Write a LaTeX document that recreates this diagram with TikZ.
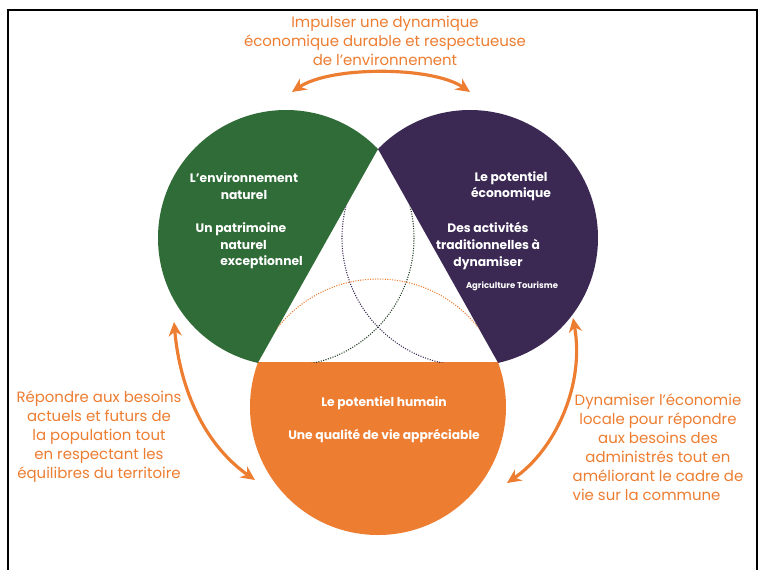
\documentclass[tikz,border=0pt]{standalone}
\usepackage{fontspec}
\setmainfont{Poppins}
\usepackage{tikz}
\usetikzlibrary{arrows.meta,calc,positioning}

\definecolor{colEnv}{RGB}{48,108,55}
\definecolor{colEco}{RGB}{59,41,84}
\definecolor{colHum}{RGB}{237,125,49}

\begin{document}
\begin{tikzpicture}[x=0.02cm,y=-0.02cm]
			\tikzstyle{Goal}	= [text=colHum, align=center, inner sep=0pt, font=\fontsize{8.5}{10.8}\selectfont]
			\tikzstyle{Inner}	= [text=white, align=center, inner sep=0pt, font=\bfseries\fontsize{7}{9.4}\selectfont]
			\tikzstyle{Small}	= [Inner, font=\bfseries\fontsize{4.8}{6}\selectfont]
			\tikzstyle{Link}	= [line width=1.8pt, colHum, {Stealth[length=8pt,width=7.5pt]}-{Stealth[length=8pt,width=7.5pt]}]
			\tikzstyle{Trace}	= [line width=0.6pt, dash pattern=on 0.6pt off 0.8pt]

			\useasboundingbox (0,0) rectangle (762,569);
			\fill [white] (0,0) rectangle (762,569);
			\draw [line width=1.1pt] (8,590) -- (8,10) -- (757,10) -- (757,590);

			% centres of the three circles and the corners of the triangle
			\coordinate (cEnv) at (286,238);
			\coordinate (cEco) at (470,238);
			\coordinate (cHum) at (378,407);
			\coordinate (T) at (378,149);
			\coordinate (L) at (257.9,362.8);
			\coordinate (R) at (498.1,362.8);

			\begin{scope}
				\clip ($(T)!-2!(L)$) -- ($(T)!3!(L)$) -- (-300,900) -- (-300,-300) -- cycle;
				\fill [colEnv] (cEnv) circle [radius=128];
			\end{scope}
			\begin{scope}
				\clip ($(T)!-2!(R)$) -- ($(T)!3!(R)$) -- (1100,900) -- (1100,-300) -- cycle;
				\fill [colEco] (cEco) circle [radius=128];
			\end{scope}
			\begin{scope}
				\clip ($(L)+(-300,0)$) rectangle ($(R)+(300,300)$);
				\fill [colHum] (cHum) circle [radius=128];
			\end{scope}

			% dotted outlines inside the triangle
			\begin{scope}
				\clip (T) -- (L) -- (R) -- cycle;
				\draw (cEnv) circle [radius=128] [Trace, colEnv!55!black];
				\draw (cEco) circle [radius=128] [Trace, colEco];
				\draw (cHum) circle [radius=128] [Trace, colHum];
			\end{scope}

			\node (envT) at (244,186) [Inner] {L’environnement\\naturel};
			\node (envP) at (241,229) [Inner] {Un patrimoine};
			\node (envQ) at (220,254.5) [Inner, align=left, anchor=west] {naturel\\exceptionnel};
			\node (ecoT) at (511,186) [Inner] {Le potentiel\\économique};
			\node (ecoA) at (488,246) [Inner] {Des activités\\traditionnelles à\\dynamiser};
			\node (ecoS) at (512,286) [Small] {Agriculture Tourisme};
			\node (humT) at (384,420) [Inner] {Le potentiel humain\\[9.4pt]Une qualité de vie appréciable};

			\node (goalTop) at (385,41) [Goal] {Impulser une dynamique\\économique durable et respectueuse\\de l’environnement};
			\node (goalLeft) at (99,437) [Goal] {Répondre aux besoins\\actuels et futurs de\\la population tout\\en respectant les\\équilibres du territoire};
			\node (goalRight) at (658,447) [Goal] {Dynamiser l’économie\\locale pour répondre\\aux besoins des\\administrés tout en\\améliorant le cadre de\\vie sur la commune\hspace*{\fill}};

			\coordinate (aTopL) at (292,92);
			\coordinate (aTopR) at (470,92);
			\coordinate (aLeftT) at (174,322);
			\coordinate (aLeftB) at (255,480);
			\coordinate (aRightT) at (573,318);
			\coordinate (aRightB) at (507,483);

			\draw (aTopL) .. controls (330,66) and (432,66) .. (aTopR) [Link];
			\draw (aLeftT) .. controls (180,390) and (205,445) .. (aLeftB) [Link];
			\draw (aRightT) .. controls (585,385) and (555,450) .. (aRightB) [Link];
		\end{tikzpicture}
\end{document}
